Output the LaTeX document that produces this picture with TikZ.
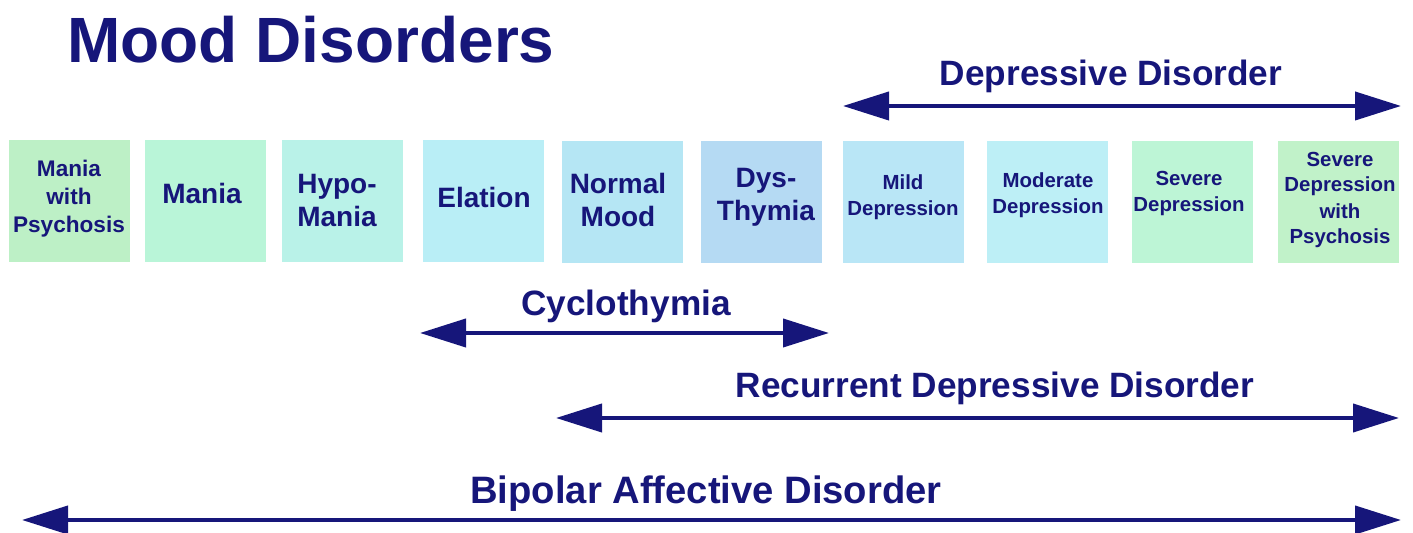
\documentclass[tikz,border=0pt]{standalone}
\usepackage{fontspec}
\setmainfont{Liberation Sans}
\usetikzlibrary{arrows.meta}
\definecolor{navy}{HTML}{16167A}
\definecolor{cA}{HTML}{BDF0C6}
\definecolor{cB}{HTML}{B9F5D8}
\definecolor{cC}{HTML}{B9F2E8}
\definecolor{cD}{HTML}{B9EEF6}
\definecolor{cE}{HTML}{B5E6F4}
\definecolor{cF}{HTML}{B5DAF3}
\definecolor{cG}{HTML}{B9E6F6}
\definecolor{cH}{HTML}{BDEFF6}
\definecolor{cI}{HTML}{BDF5D6}
\definecolor{cJ}{HTML}{C1F2C9}
\tikzset{
  moodbox/.style={minimum width=60.5pt,minimum height=61pt,inner sep=0pt,draw=none},
  bigtxt/.style={text=navy,font=\bfseries\fontsize{14}{16.5}\selectfont,align=center},
  smalltxt/.style={text=navy,font=\bfseries\fontsize{10.2}{13}\selectfont,align=center},
  midtxt/.style={text=navy,font=\bfseries\fontsize{11.3}{14}\selectfont,align=center},
  labeltxt/.style={text=navy,font=\bfseries\fontsize{17.6}{20}\selectfont},
  span/.style={draw=navy,line width=2pt,{Triangle[length=23pt,width=14pt]}-{Triangle[length=23pt,width=14pt]}}
}
\begin{document}
\begin{tikzpicture}[x=0.5pt,y=-0.5pt]
\useasboundingbox (0,0) rectangle (1413,533);
\node[text=navy,font=\bfseries\fontsize{32}{36}\selectfont] (title) at (311,40) {Mood Disorders};
% boxes
\node[moodbox,fill=cA] (b1) at (69,201) {};
\node[moodbox,fill=cB] (b2) at (205,201) {};
\node[moodbox,fill=cC] (b3) at (342,201) {};
\node[moodbox,fill=cD] (b4) at (483,201) {};
\node[moodbox,fill=cE] (b5) at (622,202) {};
\node[moodbox,fill=cF] (b6) at (761,202) {};
\node[moodbox,fill=cG] (b7) at (903,202) {};
\node[moodbox,fill=cH] (b8) at (1047,202) {};
\node[moodbox,fill=cI] (b9) at (1192,202) {};
\node[moodbox,fill=cJ] (b10) at (1338,202) {};
% texts
\node[midtxt] (t1) at (69,199) {Mania\\with\\Psychosis};
\node[bigtxt] (t2) at (202,193) {Mania};
\node[bigtxt] (t3) at (337,201) {Hypo-\\Mania};
\node[bigtxt] (t4) at (484,197) {Elation};
\node[bigtxt] (t5) at (618,200) {Normal\\Mood};
\node[bigtxt] (t6) at (766,197) {Dys-\\Thymia};
\node[smalltxt] (t7) at (903,197) {Mild\\Depression};
\node[smalltxt] (t8) at (1048,195) {Moderate\\Depression};
\node[smalltxt] (t9) at (1189,193) {Severe\\Depression};
\node[smalltxt] (t10) at (1340,200) {Severe\\Depression\\with\\Psychosis};
% spans
\node[labeltxt] (l1) at (1111,76) {Depressive Disorder};
\coordinate (d1) at (843,106); \coordinate (d2) at (1401,106);
\draw[span] (d1) -- (d2);
\node[labeltxt] (l2) at (626,306) {Cyclothymia};
\coordinate (c1) at (420,333); \coordinate (c2) at (829,333);
\draw[span] (c1) -- (c2);
\node[labeltxt] (l3) at (995,388) {Recurrent Depressive Disorder};
\coordinate (r1) at (556,418); \coordinate (r2) at (1399,418);
\draw[span] (r1) -- (r2);
\node[labeltxt,font=\bfseries\fontsize{19.1}{22}\selectfont] (l4) at (706,494) {Bipolar Affective Disorder};
\coordinate (p1) at (22,520); \coordinate (p2) at (1401,520);
\draw[span] (p1) -- (p2);
\end{tikzpicture}
\end{document}
